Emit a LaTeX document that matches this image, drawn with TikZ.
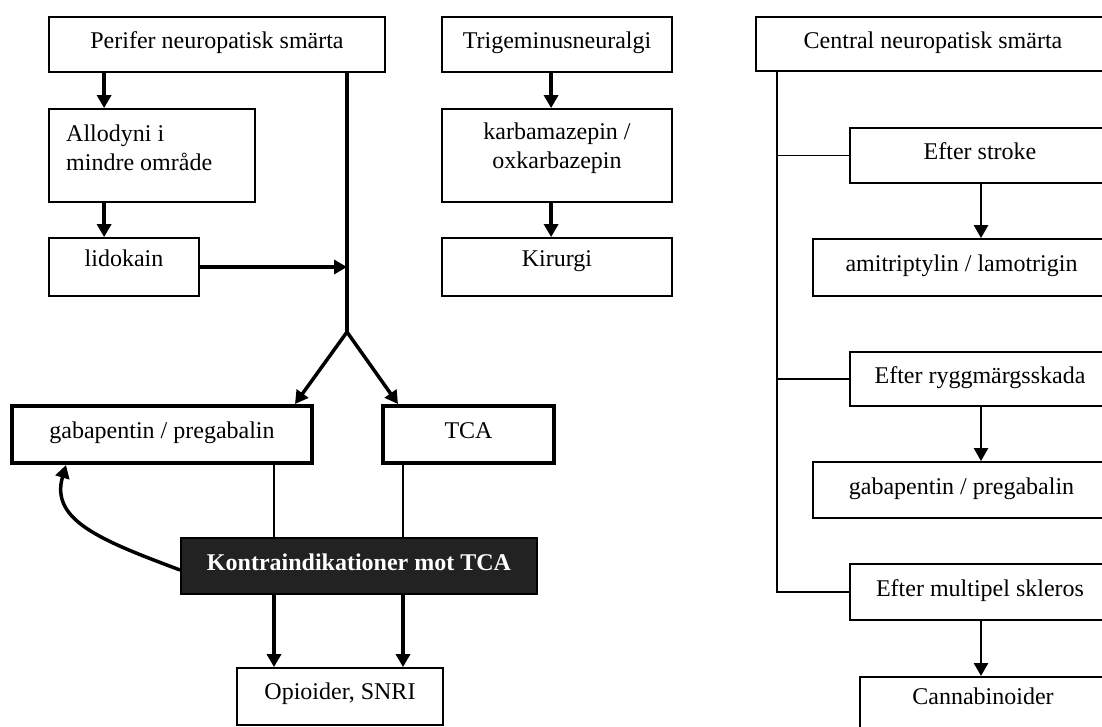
\documentclass[tikz,border=0pt]{standalone}
\usepackage{fontspec}
\setmainfont{Liberation Serif}
\usetikzlibrary{arrows.meta,calc}

\definecolor{darkfill}{HTML}{222222}

\tikzset{
  box/.style={draw, line width=1.8pt, inner sep=0pt, text height=16pt, text depth=8pt},
  topbox/.style={box, text depth=18pt},
  heavybox/.style={box, line width=4pt},
  darkbox/.style={box, fill=darkfill, text=white, font=\fontsize{24}{29}\bfseries\selectfont},
  plaintext/.style={inner sep=0pt},
  arr/.style={line width=3.5pt, -{Triangle[length=13pt,width=14pt]}},
  slimarr/.style={line width=2.6pt, -{Triangle[length=13pt,width=14pt]}},
  joinline/.style={line width=3.5pt},
  thinline/.style={line width=1.4pt},
}

\begin{document}
\begin{tikzpicture}[x=1pt, y=-1pt, font=\fontsize{24}{29}\selectfont, line join=miter]
	\useasboundingbox (0,0) rectangle (1102,726);
	\clip (0,0) rectangle (1102,726);
	% Fixed points of the connectors
	\coordinate (fork) at (347,332);
	\coordinate (lcol) at (274,0);
	\coordinate (rcol) at (403,0);
	\coordinate (spine) at (777,592);
	\coordinate (rarr) at (981,0);
	% Peripheral branch
	\node[box, minimum width=336pt, minimum height=55pt] (perifer) at (217,44.5) {Perifer neuropatisk smärta};
	\node[box, minimum width=206pt, minimum height=93pt] (allodyni) at (152,155.5) {};
	\node[plaintext, anchor=west, align=left] (allodynitxt) at (66,148) {Allodyni i\\mindre område};
	\node[topbox, minimum width=150pt, minimum height=58pt] (lidokain) at (124,267) {lidokain};
	% Trigeminal branch
	\node[box, minimum width=230pt, minimum height=55pt] (trig) at (557,44.5) {Trigeminusneuralgi};
	\node[box, minimum width=230pt, minimum height=93pt] (karba) at (557,155.5) {};
	\node[plaintext, align=center] (karbatxt) at (557,148) {karbamazepin /\\oxkarbazepin};
	\node[topbox, minimum width=230pt, minimum height=58pt] (kirurgi) at (557,267) {Kirurgi};
	% First line drugs and contraindications
	\node[heavybox, minimum width=300pt, minimum height=57pt] (gaba) at (162,434.5) {gabapentin / pregabalin};
	\node[heavybox, minimum width=171pt, minimum height=57pt] (tca) at (468.5,434.5) {TCA};
	\node[darkbox, minimum width=356pt, minimum height=56pt] (kontra) at (359,566) {Kontraindikationer mot TCA};
	\node[box, text depth=11pt, minimum width=206pt, minimum height=57pt] (opioid) at (340,696.5) {Opioider, SNRI};
	% Central branch
	\node[box, line width=2.6pt, minimum width=354pt, minimum height=54pt] (central) at (933,44) {Central neuropatisk smärta};
	\node[box, minimum width=260pt, minimum height=55pt] (stroke) at (980,155.5) {Efter stroke};
	\node[box, minimum width=297pt, minimum height=57pt] (amitrip) at (961.5,267.5) {amitriptylin / lamotrigin};
	\node[box, minimum width=260pt, minimum height=54pt] (rygg) at (980,379) {Efter ryggmärgsskada};
	\node[box, minimum width=297pt, minimum height=56pt] (gabab) at (961.5,490) {gabapentin / pregabalin};
	\node[box, minimum width=260pt, minimum height=56pt] (ms) at (980,592) {Efter multipel skleros};
	\node[topbox, minimum width=246pt, minimum height=58pt, anchor=north] (canna) at (983,676) {Cannabinoider};
	% Connectors on the left
	\draw[arr] ([xshift=56pt]perifer.south west) -- ([xshift=56pt]allodyni.north west);
	\draw[arr] ([xshift=56pt]allodyni.south west) -- ([xshift=56pt]lidokain.north west);
	\draw[joinline] (perifer.south -| fork) -- (fork);
	\draw[arr] (lidokain.east) -- (lidokain.east -| fork);
	\draw[arr] (fork) -- ([xshift=-19pt]gaba.north east);
	\draw[arr] (fork) -- ([xshift=17pt]tca.north west);
	\draw[arr] ([xshift=110pt]trig.south west) -- ([xshift=110pt]karba.north west);
	\draw[arr] ([xshift=110pt]karba.south west) -- ([xshift=110pt]kirurgi.north west);
	\draw[thinline] (gaba.south -| lcol) -- (kontra.north -| lcol);
	\draw[thinline] (tca.south -| rcol) -- (kontra.north -| rcol);
	\draw[arr] (kontra.south -| lcol) -- (opioid.north -| lcol);
	\draw[arr] (kontra.south -| rcol) -- (opioid.north -| rcol);
	\draw[arr] ([yshift=-4pt]kontra.west) .. controls (100,540) and (50,520) .. ([xshift=56pt]gaba.south west);
	% Connectors on the right
	\draw[line width=1.8pt] (central.south -| spine) -- (spine) -- (ms.west);
	\draw[line width=1.8pt] (stroke.west -| spine) -- (stroke.west);
	\draw[line width=1.8pt] (rygg.west -| spine) -- (rygg.west);
	\draw[slimarr] (stroke.south -| rarr) -- (amitrip.north -| rarr);
	\draw[slimarr] (rygg.south -| rarr) -- (gabab.north -| rarr);
	\draw[slimarr] (ms.south -| rarr) -- (canna.north -| rarr);
\end{tikzpicture}
\end{document}
